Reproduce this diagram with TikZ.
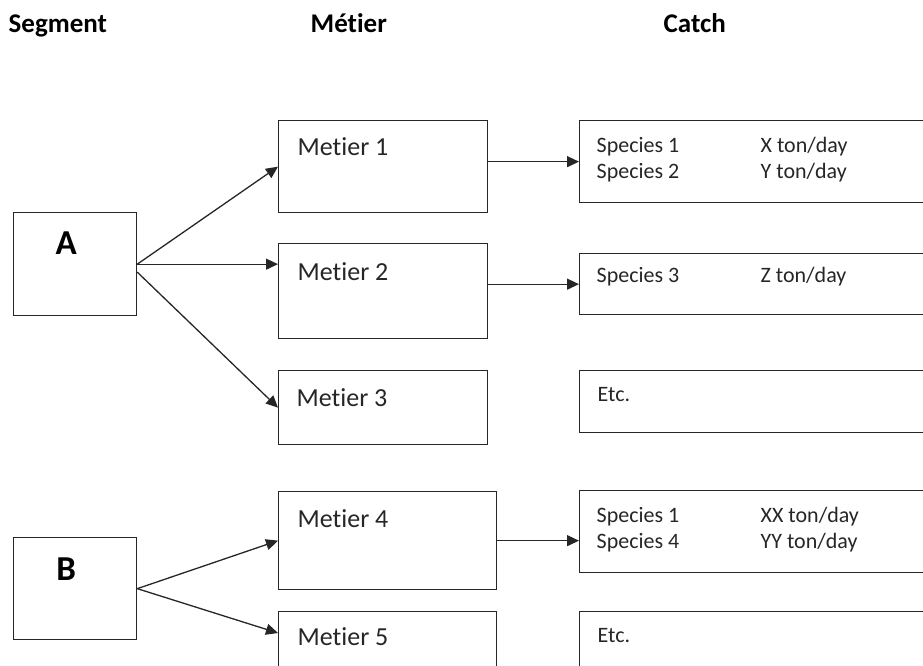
\documentclass[tikz,border=0pt]{standalone}
\usepackage{fontspec}
\setmainfont[Ligatures=NoCommon]{Carlito}
\usetikzlibrary{positioning, arrows.meta}

\begin{document}
\begin{tikzpicture}[x=1pt, y=-1pt, line width=1.3pt, >={Triangle[length=12pt, width=11pt]},
    box/.style={draw=black!85, anchor=north west, inner sep=0pt},
    head/.style={anchor=base west, inner sep=0pt, font=\fontsize{27}{32}\selectfont\bfseries},
    seglabel/.style={anchor=base, inner sep=0pt, font=\fontsize{35}{40}\selectfont\bfseries},
    metlabel/.style={anchor=base west, inner sep=0pt, text=black!85, font=\fontsize{26}{30}\selectfont},
    catchlabel/.style={anchor=base west, inner sep=0pt, text=black!85, font=\fontsize{22}{26}\selectfont}]
    \useasboundingbox (0,0) rectangle (923,665);

    % Headers
    \node[head] (hseg) at (8,32) {Segment};
    \node[head] (hmet) at (310,32) {Métier};
    \node[head] (hcat) at (663,32) {Catch};

    % Segments
    \node[box, minimum width=123pt, minimum height=103pt] (A) at (13,212) {};
    \node[box, minimum width=123pt, minimum height=102pt] (B) at (13,537) {};
    \node[seglabel] (tA) at ([shift={(-9,42)}]A.north) {A};
    \node[seglabel] (tB) at ([shift={(-9,43)}]B.north) {B};

    % Metiers
    \node[box, minimum width=209pt, minimum height=92pt] (m1) at (278,120) {};
    \node[box, minimum width=209pt, minimum height=95pt] (m2) at (278,243) {};
    \node[box, minimum width=209pt, minimum height=74pt] (m3) at (278,370) {};
    \node[box, minimum width=218pt, minimum height=98pt] (m4) at (278,491) {};
    \node[box, minimum width=218pt, minimum height=80pt] (m5) at (278,611) {};
    \node[metlabel] (tm1) at ([shift={(19,35)}]m1.north west) {Metier 1};
    \node[metlabel] (tm2) at ([shift={(19,37)}]m2.north west) {Metier 2};
    \node[metlabel] (tm3) at ([shift={(18,36)}]m3.north west) {Metier 3};
    \node[metlabel] (tm4) at ([shift={(19,36)}]m4.north west) {Metier 4};
    \node[metlabel] (tm5) at ([shift={(19,34)}]m5.north west) {Metier 5};

    % Catches
    \node[box, minimum width=360pt, minimum height=82pt] (c1) at (579,120) {};
    \node[box, minimum width=360pt, minimum height=61pt] (c2) at (579,253) {};
    \node[box, minimum width=360pt, minimum height=62pt] (c3) at (579,370) {};
    \node[box, minimum width=360pt, minimum height=82pt] (c4) at (579,490) {};
    \node[box, minimum width=360pt, minimum height=80pt] (c5) at (579,611) {};
    \node[catchlabel] (tc1) at ([shift={(17,32)}]c1.north west)
        {\begin{tabular}[t]{@{}p{164pt}@{}l@{}}Species 1 & X ton/day\\ Species 2 & Y ton/day\end{tabular}};
    \node[catchlabel] (tc2) at ([shift={(17,29)}]c2.north west)
        {\begin{tabular}[t]{@{}p{164pt}@{}l@{}}Species 3 & Z ton/day\end{tabular}};
    \node[catchlabel] (tc3) at ([shift={(18,31)}]c3.north west) {Etc.};
    \node[catchlabel] (tc4) at ([shift={(17,32)}]c4.north west)
        {\begin{tabular}[t]{@{}p{164pt}@{}l@{}}Species 1 & XX ton/day\\ Species 4 & YY ton/day\end{tabular}};
    \node[catchlabel] (tc5) at ([shift={(18,31)}]c5.north west) {Etc.};

    % Arrows
    \draw[->, black!85] (A.east) -- (m1.west);
    \draw[->, black!85] (A.east) -- (A.east -| m2.west);
    \draw[->, black!85] ([shift={(0,8)}]A.east) -- (m3.west);
    \draw[->, black!85] (B.east) -- (m4.west);
    \draw[->, black!85] (B.east) -- ([shift={(0,22)}]m5.north west);
    \draw[->, black!85] (m1.east |- c1.west) -- (c1.west);
    \draw[->, black!85] (m2.east |- c2.west) -- (c2.west);
    \draw[->, black!85] (m4.east) -- (m4.east -| c4.west);
\end{tikzpicture}
\end{document}
